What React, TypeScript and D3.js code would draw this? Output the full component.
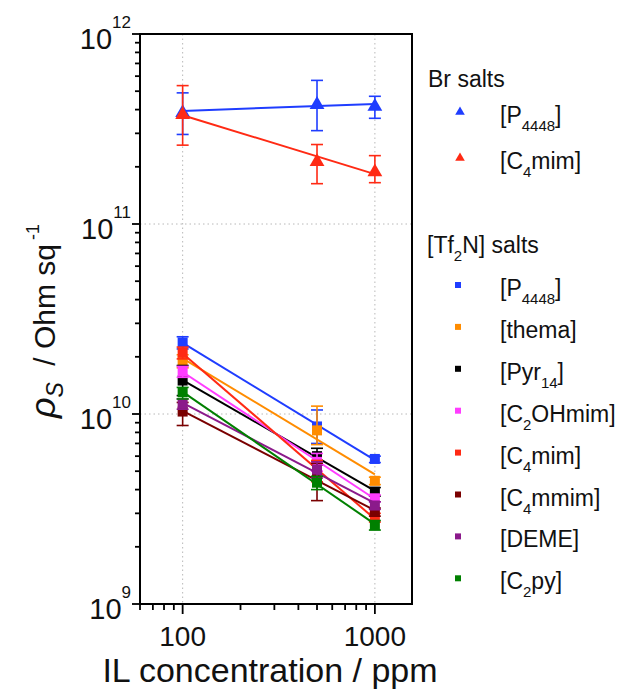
import * as d3 from "d3";

// concentrations (ppm)
const CONC = [100, 500, 1000];

// Br salts
const BR_NAMES = ["P4448", "C4mim"];
const BR_COLORS = ["#1f3dff", "#ff2a14"];
const BR_VALUES = [
  [3.9e11, 4.3e11, 4.2e11],
  [3.8e11, 2.15e11, 1.9e11],
];
const BR_UPPER = [
  [4.9e11, 5.7e11, 4.7e11],
  [5.35e11, 2.62e11, 2.29e11],
];
const BR_LOWER = [
  [2.96e11, 3.1e11, 3.6e11],
  [2.6e11, 1.63e11, 1.65e11],
];

// [Tf2N] salts
const TF_NAMES = ["P4448", "thema", "Pyr14", "C2OHmim", "C4mim", "C4mmim", "DEME", "C2py"];
const TF_COLORS = ["#1f3dff", "#ff8c00", "#000000", "#ff3cff", "#ff2a14", "#7a0000", "#8b1a8b", "#008000"];
const TF_VALUES = [
  [2.38e10, 8.6e9, 5.8e9],
  [1.9e10, 8.2e9, 4.45e9],
  [1.5e10, 6.0e9, 3.9e9],
  [1.67e10, 5.6e9, 3.6e9],
  [2.1e10, 5.0e9, 2.85e9],
  [1.03e10, 4.6e9, 3.05e9],
  [1.13e10, 5.1e9, 3.3e9],
  [1.3e10, 4.35e9, 2.6e9],
];
const TF_UPPER = [
  [2.55e10, 1.05e10, 6.0e9],
  [2.05e10, 1.1e10, 4.65e9],
  [1.8e10, 6.6e9, 4.1e9],
  [1.78e10, 6.2e9, 3.75e9],
  [2.25e10, 5.7e9, 3.0e9],
  [1.15e10, 5.5e9, 3.2e9],
  [1.2e10, 5.6e9, 3.45e9],
  [1.38e10, 4.7e9, 2.75e9],
];
const TF_LOWER = [
  [2.2e10, 7.0e9, 5.55e9],
  [1.75e10, 6.9e9, 4.25e9],
  [1.25e10, 5.4e9, 3.7e9],
  [1.56e10, 5.0e9, 3.45e9],
  [1.95e10, 4.4e9, 2.7e9],
  [8.7e9, 3.5e9, 2.9e9],
  [1.06e10, 4.6e9, 3.15e9],
  [1.2e10, 4.0e9, 2.45e9],
];

// legend labels: [text, isSub]
type Part = [string, boolean];
const BR_LABELS: Part[][] = [
  [["[P", false], ["4448", true], ["]", false]],
  [["[C", false], ["4", true], ["mim]", false]],
];
const TF_LABELS: Part[][] = [
  [["[P", false], ["4448", true], ["]", false]],
  [["[thema]", false]],
  [["[Pyr", false], ["14", true], ["]", false]],
  [["[C", false], ["2", true], ["OHmim]", false]],
  [["[C", false], ["4", true], ["mim]", false]],
  [["[C", false], ["4", true], ["mmim]", false]],
  [["[DEME]", false]],
  [["[C", false], ["2", true], ["py]", false]],
];

const Y_EXP = [9, 10, 11, 12];
const X_TICKS = [100, 1000];

const FONT = "'Liberation Sans', Arial, Helvetica, sans-serif";

const W = 621;
const H = 692;
const left = 140;
const right = 412;
const top = 34;
const bottom = 604;

const x = d3.scaleLog().domain([60, 1560]).range([left, right]);
const y = d3.scaleLog().domain([1e9, 1e12]).range([bottom, top]);

// log-log least squares fit
function fit(vals: number[]) {
  const lx = CONC.map(Math.log10);
  const ly = vals.map(Math.log10);
  const mx = d3.mean(lx)!;
  const my = d3.mean(ly)!;
  let num = 0, den = 0;
  lx.forEach((v, i) => {
    num += (v - mx) * (ly[i] - my);
    den += (v - mx) * (v - mx);
  });
  const b = num / den;
  const a = my - b * mx;
  return (c: number) => Math.pow(10, a + b * Math.log10(c));
}

const Label = ({ parts, size, subSize }: { parts: Part[]; size: number; subSize: number }) => {
  let shifted = false;
  return (
    <>
      {parts.map(([t, sub], i) => {
        let dy = 0;
        if (sub && !shifted) { dy = 8; shifted = true; }
        else if (!sub && shifted) { dy = -8; shifted = false; }
        return (
          <tspan key={i} dy={dy} fontSize={sub ? subSize : size}>{t}</tspan>
        );
      })}
    </>
  );
};

const Series = ({ vals, upper, lower, color, marker }: any) => {
  const f = fit(vals);
  const line = d3.line<number>().x((c) => x(c)).y((c) => y(f(c)));
  const tri = d3.symbol().type(d3.symbolTriangle).size(95)();
  return (
    <g>
      <path d={line([CONC[0], CONC[CONC.length - 1]])!} stroke={color} strokeWidth={2} fill="none" />
      {CONC.map((c, i) => (
        <g key={i} stroke={color} strokeWidth={1.6}>
          <line x1={x(c)} x2={x(c)} y1={y(upper[i])} y2={y(lower[i])} />
          <line x1={x(c) - 6} x2={x(c) + 6} y1={y(upper[i])} y2={y(upper[i])} />
          <line x1={x(c) - 6} x2={x(c) + 6} y1={y(lower[i])} y2={y(lower[i])} />
        </g>
      ))}
      {CONC.map((c, i) =>
        marker === "tri" ? (
          <path key={"m" + i} d={tri!} transform={`translate(${x(c)},${y(vals[i]) + 1})`} fill={color} />
        ) : (
          <rect key={"m" + i} x={x(c) - 5} y={y(vals[i]) - 5} width={10} height={10} fill={color} />
        )
      )}
    </g>
  );
};

export default function App() {
  const minorY: number[] = [];
  for (let e = 9; e < 12; e++) for (let k = 2; k <= 9; k++) minorY.push(k * Math.pow(10, e));
  const minorX = x.ticks().filter((t) => !X_TICKS.includes(t));

  return (
    <div style={{ position: "absolute", left: 0, top: 0 }}>
      <svg width={W} height={H} fontFamily={FONT} style={{ display: "block" }}>
        <rect width={W} height={H} fill="#fff" />
        {/* grid */}
        <g stroke="#b8b8b8" strokeWidth={1} strokeDasharray="1.5,3">
          {X_TICKS.map((t) => (
            <line key={t} x1={x(t)} x2={x(t)} y1={top} y2={bottom} />
          ))}
          {[1e10, 1e11].map((t) => (
            <line key={t} x1={left} x2={right} y1={y(t)} y2={y(t)} />
          ))}
        </g>

        {/* data */}
        {TF_NAMES.map((n, i) => (
          <Series key={"tf" + n} vals={TF_VALUES[i]} upper={TF_UPPER[i]} lower={TF_LOWER[i]} color={TF_COLORS[i]} marker="sq" />
        ))}
        {BR_NAMES.map((n, i) => (
          <Series key={"br" + n} vals={BR_VALUES[i]} upper={BR_UPPER[i]} lower={BR_LOWER[i]} color={BR_COLORS[i]} marker="tri" />
        ))}

        {/* frame */}
        <rect x={left} y={top} width={right - left} height={bottom - top} fill="none" stroke="#000" strokeWidth={2} />

        {/* ticks */}
        <g stroke="#000" strokeWidth={1.8}>
          {Y_EXP.map((e) => (
            <line key={e} x1={left - 8} x2={left} y1={y(Math.pow(10, e))} y2={y(Math.pow(10, e))} />
          ))}
          {minorY.map((t) => (
            <line key={t} x1={left - 5} x2={left} y1={y(t)} y2={y(t)} />
          ))}
          {X_TICKS.map((t) => (
            <line key={t} x1={x(t)} x2={x(t)} y1={bottom} y2={bottom + 10} />
          ))}
          {minorX.map((t) => (
            <line key={t} x1={x(t)} x2={x(t)} y1={bottom} y2={bottom + 6} />
          ))}
        </g>

        {/* y tick labels */}
        {Y_EXP.map((e) => (
          <text key={e} x={131} y={y(Math.pow(10, e)) + 15} textAnchor="end" fontSize={29} fill="#111">
            10<tspan dy={-21} fontSize={17}>{e}</tspan>
          </text>
        ))}
        {/* x tick labels */}
        {X_TICKS.map((t) => (
          <text key={t} x={x(t)} y={646} textAnchor="middle" fontSize={28} fill="#111">{t}</text>
        ))}

        {/* axis titles */}
        <text x={270} y={682} textAnchor="middle" fontSize={34} fill="#111">IL concentration / ppm</text>
        <text transform="translate(55,418) rotate(-90)" fontSize={30} fill="#111">
          <tspan fontStyle="italic" fontSize={36}>ρ</tspan>
          <tspan dy={8} fontSize={23} fontStyle="italic">S</tspan>
          <tspan dy={-8} dx={8}> / Ohm sq</tspan>
          <tspan dy={-16} dx={4} fontSize={18}>-1</tspan>
        </text>

        {/* legend */}
        <text x={428} y={87} fontSize={23} fill="#111">Br salts</text>
        {BR_NAMES.map((n, i) => {
          const ly = 112 + i * 46;
          return (
            <g key={n}>
              <path d={d3.symbol().type(d3.symbolTriangle).size(40)()!} transform={`translate(460,${ly})`} fill={BR_COLORS[i]} />
              <text x={500} y={ly + 11} fontSize={23} fill="#111">
                <Label parts={BR_LABELS[i]} size={23} subSize={15} />
              </text>
            </g>
          );
        })}

        <text x={427} y={253} fontSize={23} fill="#111">
          <Label parts={[["[Tf", false], ["2", true], ["N] salts", false]]} size={23} subSize={15} />
        </text>
        {TF_NAMES.map((n, i) => {
          const ly = 285 + i * 41.9;
          return (
            <g key={n}>
              <rect x={455} y={ly - 3} width={6} height={6} fill={TF_COLORS[i]} />
              <text x={500} y={ly + 11} fontSize={23} fill="#111">
                <Label parts={TF_LABELS[i]} size={23} subSize={15} />
              </text>
            </g>
          );
        })}
      </svg>
    </div>
  );
}
